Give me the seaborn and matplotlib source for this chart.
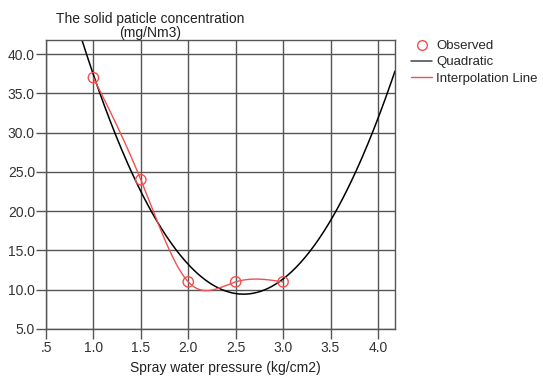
import numpy as np
import pandas as pd
import matplotlib
matplotlib.use("Agg")
import matplotlib.pyplot as plt
import seaborn as sns
from matplotlib.lines import Line2D

# ---- data ----
pressure = [1.0, 1.5, 2.0, 2.5, 3.0]
concentration = [37.0, 24.0, 11.0, 11.0, 11.0]
xtick_vals = [0.5, 1.0, 1.5, 2.0, 2.5, 3.0, 3.5, 4.0]
xtick_labels = [".5", "1.0", "1.5", "2.0", "2.5", "3.0", "3.5", "4.0"]
ytick_vals = [5, 10, 15, 20, 25, 30, 35, 40]
ytick_labels = ["5.0", "10.0", "15.0", "20.0", "25.0", "30.0", "35.0", "40.0"]
xlim = (0.5, 4.18)
ylim = (5.0, 41.8)

sns.set_theme(style="ticks")
plt.rcParams['font.family'] = ['Liberation Sans', 'DejaVu Sans']

# quadratic fit of observed data
coef = np.polyfit(pressure, concentration, 2)
xq = np.linspace(xlim[0], xlim[1], 300)
quad_df = pd.DataFrame({"x": xq, "y": np.polyval(coef, xq)})

# natural cubic spline through observed points
def natural_spline(xs, ys, xe):
    xs = np.asarray(xs, float); ys = np.asarray(ys, float)
    n = len(xs)
    h = np.diff(xs)
    A = np.zeros((n, n)); r = np.zeros(n)
    A[0, 0] = 1; A[-1, -1] = 1
    for i in range(1, n - 1):
        A[i, i - 1] = h[i - 1]
        A[i, i] = 2 * (h[i - 1] + h[i])
        A[i, i + 1] = h[i]
        r[i] = 3 * ((ys[i + 1] - ys[i]) / h[i] - (ys[i] - ys[i - 1]) / h[i - 1])
    c = np.linalg.solve(A, r)
    out = np.empty_like(xe)
    for k, xv in enumerate(xe):
        i = min(max(np.searchsorted(xs, xv) - 1, 0), n - 2)
        b = (ys[i + 1] - ys[i]) / h[i] - h[i] * (2 * c[i] + c[i + 1]) / 3
        d = (c[i + 1] - c[i]) / (3 * h[i])
        t = xv - xs[i]
        out[k] = ys[i] + b * t + c[i] * t ** 2 + d * t ** 3
    return out

xs = np.linspace(pressure[0], pressure[-1], 300)
spl_df = pd.DataFrame({"x": xs, "y": natural_spline(pressure, concentration, xs)})
obs_df = pd.DataFrame({"x": pressure, "y": concentration})

fig = plt.figure(figsize=(5.43, 3.76), dpi=100)
ax = fig.add_axes([46/543, 1 - 329/376, (395 - 46)/543, (329 - 40)/376])

red = "#f05050"
sns.lineplot(data=quad_df, x="x", y="y", ax=ax, color="black", lw=1.1, sort=False)
sns.lineplot(data=spl_df, x="x", y="y", ax=ax, color=red, lw=1.0, sort=False)
sns.scatterplot(data=obs_df, x="x", y="y", ax=ax, marker="o", s=55,
                facecolors="none", edgecolor=red, linewidth=1.0, zorder=5)

ax.set_xlim(*xlim)
ax.set_ylim(*ylim)
ax.set_xticks(xtick_vals)
ax.set_xticklabels(xtick_labels)
ax.set_yticks(ytick_vals)
ax.set_yticklabels(ytick_labels)
ax.grid(True, color="#555555", lw=1.0)
ax.set_axisbelow(True)
for s in ax.spines.values():
    s.set_visible(True)
    s.set_color("#555555"); s.set_linewidth(1.0)
ax.tick_params(axis="both", which="major", direction="out", bottom=True, left=True,
               length=7, width=1.0, color="#555555", labelsize=10,
               labelcolor="#333333", pad=1)
ax.tick_params(axis="x", pad=2)
ax.set_xlabel("")
ax.set_ylabel("")
fig.text(225/543, 1 - 368/376, "Spray water pressure (kg/cm2)",
         ha="center", va="center", fontsize=10, color="#222222")
fig.text(150/543, 1 - 26/376, "The solid paticle concentration\n(mg/Nm3)",
         ha="center", va="center", fontsize=10, color="#222222", linespacing=0.95)

handles = [
    Line2D([], [], marker="o", ls="none", markerfacecolor="none",
           markeredgecolor=red, markersize=7),
    Line2D([], [], color="#444444", lw=1.1),
    Line2D([], [], color=red, lw=1.0),
]
fig.legend(handles, ["Observed", "Quadratic", "Interpolation Line"],
           loc="upper left", bbox_to_anchor=(411/543, 1 - 40/376), frameon=False,
           fontsize=9.5, handlelength=1.6, handletextpad=0.3, labelspacing=0.3,
           borderaxespad=0, borderpad=0)

fig.savefig("out.png", dpi=100)
